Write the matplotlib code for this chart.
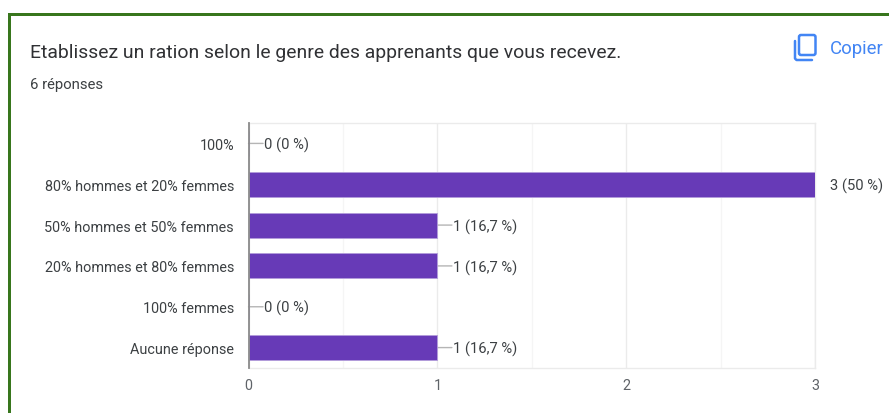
import matplotlib
matplotlib.use("Agg")
import matplotlib.pyplot as plt
from matplotlib.patches import FancyBboxPatch, Rectangle

plt.rcParams['font.family'] = ['Roboto', 'DejaVu Sans']

categories = ["100%", "80% hommes et 20% femmes", "50% hommes et 50% femmes",
              "20% hommes et 80% femmes", "100% femmes", "Aucune réponse"]
values = [0, 3, 1, 1, 0, 1]
labels = ["0 (0 %)", "3 (50 %)", "1 (16,7 %)", "1 (16,7 %)", "0 (0 %)", "1 (16,7 %)"]
ticks = [0, 1, 2, 3]
minor_ticks = [0.5, 1.5, 2.5]

title = "Etablissez un ration selon le genre des apprenants que vous recevez."
subtitle = "6 réponses"

W, H = 889, 414
PURPLE = "#673ab7"
TEXT = "#3c4043"
BLUE = "#4285f4"

fig = plt.figure(figsize=(W / 100, H / 100), dpi=100, facecolor="white")

# page furniture, in pixel coordinates
bg = fig.add_axes([0, 0, 1, 1])
bg.set_xlim(0, W)
bg.set_ylim(H, 0)
bg.axis("off")
bg.add_patch(Rectangle((8, 14), W - 8, 3, fc="#38761d", ec="none"))
bg.add_patch(Rectangle((8, 14), 3, H - 14, fc="#38761d", ec="none"))
bg.text(30, 52.5, title, fontsize=13.95, color="#303134", va="center", ha="left")
bg.text(30, 85.5, subtitle, fontsize=10.7, color=TEXT, va="center", ha="left")
bg.text(830, 49, "Copier", fontsize=13.4, color=BLUE, va="center", ha="left")

# copy icon
bg.add_patch(FancyBboxPatch((799, 36), 16.5, 20, boxstyle="round,pad=0,rounding_size=2",
                            fc="none", ec=BLUE, lw=1.8))
bg.plot([795, 795, 796.5, 812], [42, 59.5, 61, 61], color=BLUE, lw=1.8, solid_capstyle="round")

# chart
ax = fig.add_axes([248.5 / W, 1 - 369 / H, (815 - 248.5) / W, (369 - 124) / H])
ax.set_facecolor("none")
pos = list(range(len(categories)))
ax.barh(pos, values, height=0.61, color=PURPLE, edgecolor="#b39ddb", linewidth=0.6, zorder=3)
ax.set_xlim(0, 3)
ax.set_ylim(5.5, -0.5)

ax.set_xticks(ticks)
ax.set_xticks(minor_ticks, minor=True)
ax.grid(True, axis="x", which="major", color="#ebebeb", lw=1, zorder=0)
ax.grid(True, axis="x", which="minor", color="#f5f5f5", lw=1, zorder=0)
ax.set_yticks(pos)
ax.set_yticklabels(categories)
ax.tick_params(axis="y", length=0, pad=10.4, labelsize=10.4, labelcolor=TEXT)
ax.tick_params(axis="x", which="both", length=0, pad=7, labelsize=10.4, labelcolor="#5f6368")

for name in ["top", "right", "bottom"]:
    ax.spines[name].set_color("#ebebeb")
    ax.spines[name].set_linewidth(1)
ax.spines["left"].set_color("#8a8a8a")
ax.spines["left"].set_linewidth(1.3)
ax.spines["left"].set_zorder(4)

# value labels with short leader lines
for y, v, lab in zip(pos, values, labels):
    if v < max(values):
        ax.annotate("", xy=(v, y), xytext=(10.5, 0), textcoords="offset points",
                    arrowprops=dict(arrowstyle="-", color="#b5b5b5", lw=1, shrinkA=0, shrinkB=0),
                    zorder=2, annotation_clip=False)
    ax.annotate(lab, xy=(v, y), xytext=(11, -0.7), textcoords="offset points",
                va="center", ha="left", fontsize=10.6, color=TEXT, annotation_clip=False)

fig.savefig("out.png", dpi=100)
